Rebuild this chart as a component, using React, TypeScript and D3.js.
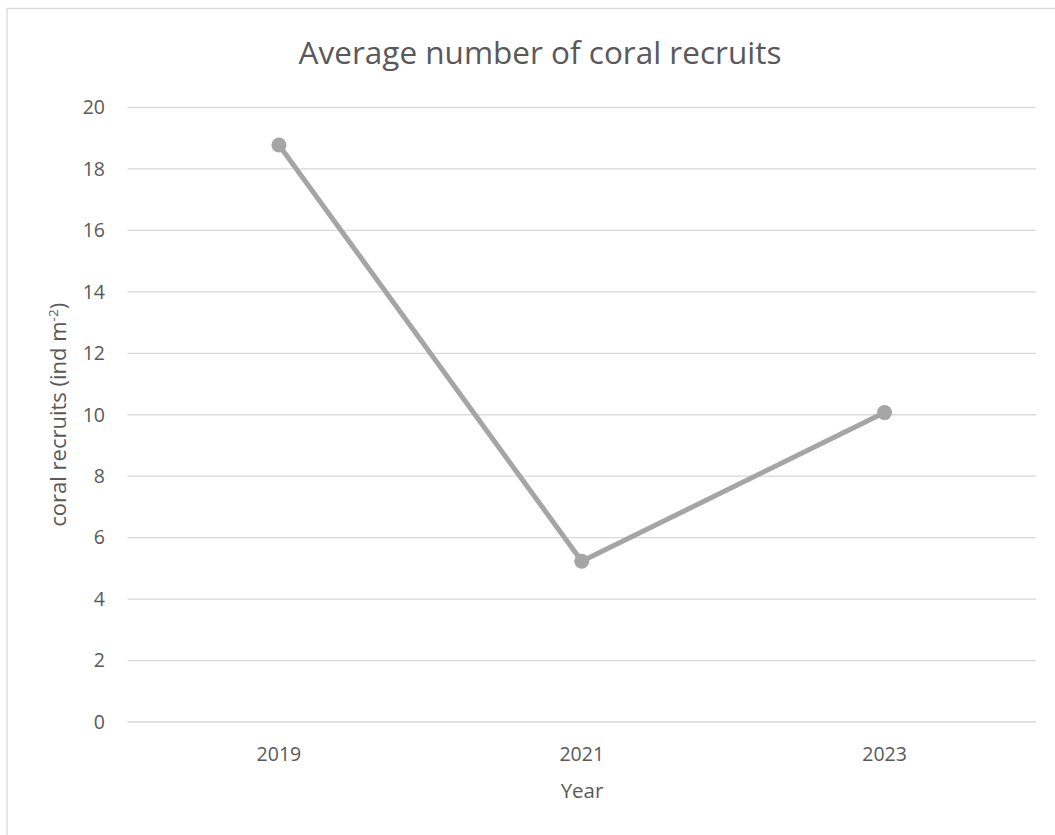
import React from "react";
import * as d3 from "d3";

const years = ["2019", "2021", "2023"];
const recruits = [18.78, 5.23, 10.07];
const yTicks = [0, 2, 4, 6, 8, 10, 12, 14, 16, 18, 20];
const title = "Average number of coral recruits";
const xTitle = "Year";

const W = 1055;
const H = 835;
const FONT = "'Open Sans', 'Liberation Sans', sans-serif";
const TEXT = "#595959";

export default function App() {
  const left = 127.5;
  const right = 1036;
  const top = 107.5;
  const bottom = 722;

  const x = d3.scaleBand<string>().domain(years).range([left, right]).padding(0);
  const y = d3.scaleLinear().domain([0, 20]).range([bottom, top]);
  const cx = (d: string) => (x(d) as number) + x.bandwidth() / 2;

  const line = d3
    .line<number>()
    .x((_, i) => cx(years[i]))
    .y((v) => y(v));

  return (
    <svg
      width={W}
      height={H}
      style={{ position: "absolute", left: 0, top: 0, background: "#fff" }}
    >
      <rect x={0} y={0} width={W} height={H} fill="#fff" />
      <rect
        x={7}
        y={8.5}
        width={W + 20}
        height={H + 20}
        fill="none"
        stroke="#d9d9d9"
        strokeWidth={1.3}
      />
      <text
        x={540}
        y={64}
        textAnchor="middle"
        fontFamily={FONT}
        fontSize={31.5}
        fill={TEXT}
      >
        {title}
      </text>
      {yTicks.map((t) => (
        <g key={t}>
          <line
            x1={left}
            x2={right}
            y1={y(t)}
            y2={y(t)}
            stroke="#d9d9d9"
            strokeWidth={1.3}
          />
          <text
            x={105}
            y={y(t)}
            dy="0.35em"
            textAnchor="end"
            fontFamily={FONT}
            fontSize={19.5}
            fill={TEXT}
          >
            {t}
          </text>
        </g>
      ))}
      {years.map((yr) => (
        <text
          key={yr}
          x={cx(yr)}
          y={761}
          textAnchor="middle"
          fontFamily={FONT}
          fontSize={19.5}
          fill={TEXT}
        >
          {yr}
        </text>
      ))}
      <text
        x={582}
        y={798}
        textAnchor="middle"
        fontFamily={FONT}
        fontSize={20.5}
        fill={TEXT}
      >
        {xTitle}
      </text>
      <text
        transform={`translate(66,${(top + bottom) / 2}) rotate(-90)`}
        textAnchor="middle"
        fontFamily={FONT}
        fontSize={22}
        fill={TEXT}
      >
        coral recruits (ind m
        <tspan fontSize={13.5} dy={-8}>
          -2
        </tspan>
        <tspan dy={8}>)</tspan>
      </text>
      <path
        d={line(recruits) || ""}
        fill="none"
        stroke="#a5a5a5"
        strokeWidth={5}
        strokeLinejoin="round"
      />
      {recruits.map((v, i) => (
        <circle key={i} cx={cx(years[i])} cy={y(v)} r={7.5} fill="#a5a5a5" />
      ))}
    </svg>
  );
}
